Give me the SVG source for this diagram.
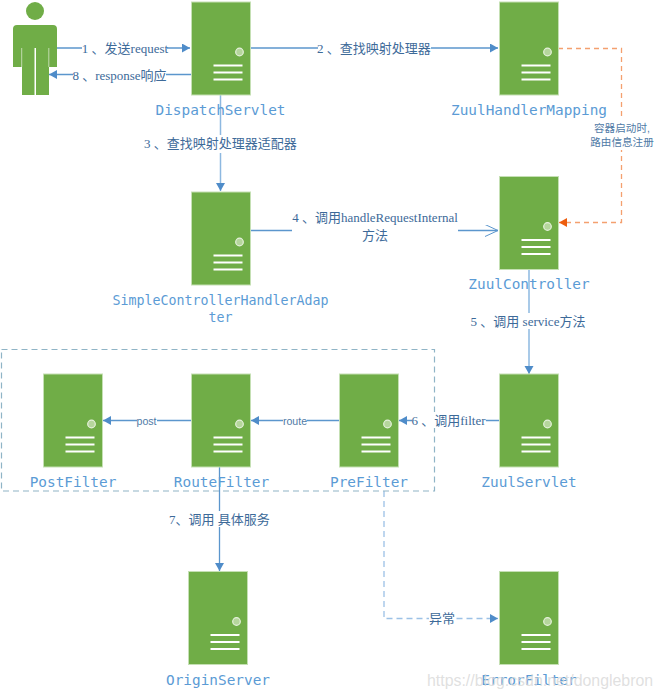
<svg xmlns="http://www.w3.org/2000/svg" width="660" height="698" viewBox="0 0 660 698">
<style>
.srv{fill:#70ad47;stroke:#c5e0b4;stroke-width:1}
.dot{fill:#b5d69c;stroke:#e6f1dc;stroke-width:1.2}
.bar{stroke:#fff;stroke-width:2.2;fill:none}
.name{font-family:"DejaVu Sans Mono",monospace;font-size:14.4px;fill:#5b9bd5;text-anchor:middle}
.lbl{font-family:"Liberation Serif","Noto Sans CJK SC",serif;font-size:13px;fill:#3d6a99;text-anchor:middle}
.sm{font-family:"Liberation Sans","Noto Sans CJK SC",sans-serif;font-size:10.600px;fill:#4f7aa6;text-anchor:middle}
.c{fill:none;stroke:#5b96cd;stroke-width:1.3}
.w{fill:#fff;stroke:none}
</style>
<defs>
<marker id="a" markerUnits="userSpaceOnUse" markerWidth="10" markerHeight="10" refX="8" refY="4.5" orient="auto"><path d="M0 0L8 4.500L0 9z" fill="#4f8cc9"/></marker>
<marker id="o" markerUnits="userSpaceOnUse" markerWidth="10" markerHeight="10" refX="8" refY="4.500" orient="auto"><path d="M0 0L8 4.500L0 9z" fill="#ed5d0d"/></marker>
<marker id="v" markerUnits="userSpaceOnUse" markerWidth="14" markerHeight="14" refX="13" refY="6" orient="auto"><path d="M0 0L13 6L0 12" fill="none" stroke="#5b96cd" stroke-width="1"/></marker>
<g id="server"><rect class="srv" x="0" y="0" width="59" height="93"/><circle class="dot" cx="48" cy="50" r="3.800"/><path class="bar" d="M22 63.500H51M22 70.500H51M22 77.500H51"/></g>
</defs>
<g id="person"><circle cx="35" cy="11" r="9" fill="#70ad47"/><path d="M17 25H53Q57 25 57 29V67H49V95H36V48H34.500V95H22V67H13V29Q13 25 17 25Z" fill="#70ad47"/><path d="M21.700 48V67M48.800 48V67" stroke="#d5e6c8" stroke-width="0.800"/></g>
<g id="connectors">
<path class="c" d="M57 48H190" marker-end="url(#a)"/>
<path class="c" d="M191 74.500H49" marker-end="url(#a)"/>
<path class="c" d="M250 48H498" marker-end="url(#a)"/>
<path class="c" d="M220.500 95V191" marker-end="url(#a)" style="stroke:#8db8e0;stroke-width:1.500"/>
<path class="c" d="M250 230.500H498" marker-end="url(#v)"/>
<path class="c" d="M529 269V374" marker-end="url(#a)" style="stroke:#8db8e0;stroke-width:1.500"/>
<path class="c" d="M499 420.500H399" marker-end="url(#a)"/>
<path class="c" d="M339 420.500H251" marker-end="url(#a)"/>
<path class="c" d="M191 420.500H103" marker-end="url(#a)"/>
<path class="c" d="M219.500 467V571" marker-end="url(#a)"/>
<path d="M558 48.500H621.500V222.500H559" fill="none" stroke="#f4a06f" stroke-width="1.300" stroke-dasharray="5 4" marker-end="url(#o)"/>
<path d="M384 491V618.500H498" fill="none" stroke="#9cc1e6" stroke-width="1.300" stroke-dasharray="6 4" marker-end="url(#a)"/>
<rect x="1.500" y="349.500" width="433" height="141.500" fill="none" stroke="#8fb4c6" stroke-width="1.200" stroke-dasharray="6 4"/>
</g>
<g id="DispatchServlet"><use href="#server" x="191.500" y="2"/><text class="name" x="220.500" y="115">DispatchServlet</text></g>
<g id="ZuulHandlerMapping"><use href="#server" x="499.500" y="2"/><text class="name" x="529" y="115">ZuulHandlerMapping</text></g>
<g id="SimpleControllerHandlerAdapter"><use href="#server" x="191.500" y="192"/><text class="name" x="220.500" y="304.500" style="font-size:13.300px">SimpleControllerHandlerAdap</text><text class="name" x="220.500" y="322" style="font-size:13.300px">ter</text></g>
<g id="ZuulController"><use href="#server" x="499.500" y="176.500"/><text class="name" x="529" y="289">ZuulController</text></g>
<g id="PostFilter"><use href="#server" x="43.500" y="374"/><text class="name" x="73" y="487">PostFilter</text></g>
<g id="RouteFilter"><use href="#server" x="191.500" y="374"/><text class="name" x="221.500" y="487">RouteFilter</text></g>
<g id="PreFilter"><use href="#server" x="339.500" y="374"/><text class="name" x="369" y="487">PreFilter</text></g>
<g id="ZuulServlet"><use href="#server" x="499.500" y="374"/><text class="name" x="529" y="487">ZuulServlet</text></g>
<g id="OriginServer"><use href="#server" x="188.500" y="571.500"/><text class="name" x="218" y="685">OriginServer</text></g>
<g id="ErrorFilter"><use href="#server" x="499.500" y="571.500"/><text class="name" x="529" y="685">ErrorFilter</text></g>
<g id="labels">
<rect class="w" x="82" y="40" width="85" height="16"/><text class="lbl" x="125" y="53" xml:space="preserve">1 、发送request</text>
<rect class="w" x="73" y="67" width="93" height="16"/><text class="lbl" x="119.500" y="80" xml:space="preserve">8 、response响应</text>
<rect class="w" x="318" y="40" width="113" height="16"/><text class="lbl" x="374" y="52.500" xml:space="preserve">2 、查找映射处理器</text>
<rect class="w" x="143" y="135" width="155" height="18"/><text class="lbl" x="220.500" y="148" xml:space="preserve">3 、查找映射处理器适配器</text>
<rect class="w" x="292" y="208" width="166" height="36"/><text class="lbl" x="375" y="222" xml:space="preserve">4 、调用handleRequestInternal</text><text class="lbl" x="375" y="240">方法</text>
<rect class="w" x="472" y="313" width="112" height="16"/><text class="lbl" x="528" y="326" xml:space="preserve">5 、调用 service方法</text>
<rect class="w" x="412" y="412" width="74" height="16"/><text class="lbl" x="448.500" y="425" xml:space="preserve">6 、调用filter</text>
<rect class="w" x="137" y="414" width="20" height="14"/><text class="sm" x="146.500" y="424.500">post</text>
<rect class="w" x="283" y="414" width="24" height="14"/><text class="sm" x="295" y="424.500">route</text>
<rect class="w" x="170" y="511" width="100" height="16"/><text class="lbl" x="219.500" y="524" xml:space="preserve">7、调用 具体服务</text>
<rect class="w" x="429" y="611" width="26" height="16"/><text class="lbl" x="442" y="623">异常</text>
<rect class="w" x="590" y="120" width="66" height="30"/><text class="sm" x="622" y="132">容器启动时,</text><text class="sm" x="622" y="146">路由信息注册</text>
</g>
<text x="427" y="686" font-family="'Liberation Sans',sans-serif" font-size="15.900px" fill="#d8d8d8" fill-opacity="0.800">https://blog.csdn.net/donglebron</text>
</svg>
